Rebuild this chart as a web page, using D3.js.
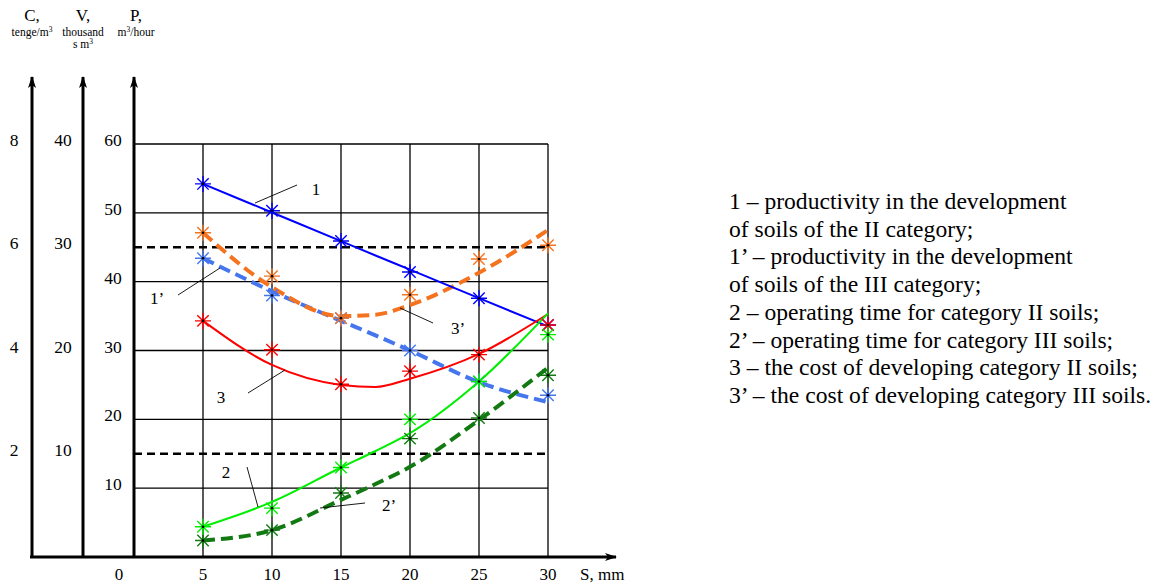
<html>
<script src="https://d3js.org/d3.v7.min.js"></script>
<style>
body { margin:0; background:#fff; }
text { font-family: "Liberation Serif", "Times New Roman", serif; fill:#000; }
</style>
<body>
<svg id="chart" width="1165" height="585"></svg>
<script>
// S, mm
const sVals = [5, 10, 15, 20, 25, 30];
const xTicks = [0, 5, 10, 15, 20, 25, 30];
const pTicks = [10, 20, 30, 40, 50, 60];
const vTicks = [10, 20, 30, 40];
const cTicks = [2, 4, 6, 8];
const refLines = [15, 45]; // on the P scale

// measured points (read in P units)
const p1Marks   = [54.2, 50.3, 45.9, 41.4, 37.6, 33.7];
const p1dMarks  = [43.4, 38.0, 34.7, 30.0, 25.5, 23.5];
const t2Marks   = [4.4, 7.1, 13.0, 20.0, 25.5, 32.3];
const t2dMarks  = [2.4, 3.9, 9.3, 17.2, 20.2, 26.4];
const c3Marks   = [34.3, 30.1, 25.1, 27.0, 29.4, 33.7];
const c3dMarks  = [47.1, 40.8, 34.7, 38.1, 43.3, 45.3];

// fitted curves
const curveS    = [5, 10, 15, 17.5, 20, 25, 30];
const p1Fit     = [54.2, 50.05, 45.9, 43.8, 41.75, 37.6, 33.5];
const p1dFit    = [43.4, 38.6, 34.3, 32.2, 30.0, 25.4, 22.5];
const t2Fit     = [4.4, 8.0, 13.0, 15.4, 18.0, 25.5, 35.4];
const t2dFit    = [2.4, 3.9, 8.3, 10.6, 13.1, 19.9, 27.5];
const c3Fit     = [34.3, 27.9, 25.0, 24.7, 25.9, 29.5, 35.3];
const c3dFit    = [47.1, 39.2, 35.0, 35.2, 36.6, 41.3, 47.5];

const legendLines = [
  "1 \u2013 productivity in the development",
  "of soils of the II category;",
  "1\u2019 \u2013 productivity in the development",
  "of soils of the III category;",
  "2 \u2013 operating time for category II soils;",
  "2\u2019 \u2013 operating time for category III soils;",
  "3 \u2013 the cost of developing category II soils;",
  "3\u2019 \u2013 the cost of developing category III soils."
];

const svg = d3.select("#chart");

const x = d3.scaleLinear().domain([0, 30]).range([134, 548]);
const y = d3.scaleLinear().domain([0, 60]).range([557, 144]);
const yV = d3.scaleLinear().domain([0, 40]).range([557, 144]);
const yC = d3.scaleLinear().domain([0, 8]).range([557, 144]);

// grid
const grid = svg.append("g").attr("stroke", "#000").attr("stroke-width", 1.3);
grid.selectAll(".vg").data(sVals).enter().append("line")
  .attr("x1", d => x(d)).attr("x2", d => x(d))
  .attr("y1", y(60)).attr("y2", y(0));
grid.selectAll(".hg").data(pTicks).enter().append("line")
  .attr("x1", x(0)).attr("x2", x(30))
  .attr("y1", d => y(d)).attr("y2", d => y(d));

svg.selectAll(".ref").data(refLines).enter().append("line")
  .attr("x1", x(0)).attr("x2", x(30))
  .attr("y1", d => y(d)).attr("y2", d => y(d))
  .attr("stroke", "#000").attr("stroke-width", 2.5).attr("stroke-dasharray", "8,5");

// axes with arrows
svg.append("defs").append("marker")
  .attr("id", "arr").attr("viewBox", "0 0 12 8").attr("refX", 11).attr("refY", 4)
  .attr("markerWidth", 12).attr("markerHeight", 8).attr("markerUnits", "userSpaceOnUse")
  .attr("orient", "auto")
  .append("path").attr("d", "M0,0 L12,4 L0,8 L3,4 Z").attr("fill", "#000");

[32, 83, 134].forEach(ax => {
  svg.append("line").attr("x1", ax).attr("x2", ax).attr("y1", 558).attr("y2", 77)
    .attr("stroke", "#000").attr("stroke-width", 3).attr("marker-end", "url(#arr)");
});
svg.append("line").attr("x1", 30).attr("x2", 616).attr("y1", 557).attr("y2", 557)
  .attr("stroke", "#000").attr("stroke-width", 3).attr("marker-end", "url(#arr)");

// tick labels
svg.selectAll(".pt").data(pTicks).enter().append("text")
  .attr("x", 113).attr("y", d => y(d) + 2).attr("text-anchor", "middle")
  .attr("font-size", 17.5).text(d => d);
svg.selectAll(".vt").data(vTicks).enter().append("text")
  .attr("x", 63).attr("y", d => yV(d) + 2).attr("text-anchor", "middle")
  .attr("font-size", 17.5).text(d => d);
svg.selectAll(".ct").data(cTicks).enter().append("text")
  .attr("x", 14).attr("y", d => yC(d) + 2).attr("text-anchor", "middle")
  .attr("font-size", 17.5).text(d => d);
svg.selectAll(".xt").data(xTicks).enter().append("text")
  .attr("x", d => d === 0 ? 119 : x(d)).attr("y", 580).attr("text-anchor", "middle")
  .attr("font-size", 17).text(d => d);
svg.append("text").attr("x", 580).attr("y", 580).attr("font-size", 17).text("S, mm");

// axis headers
function header(cx, big, lines) {
  svg.append("text").attr("x", cx).attr("y", 21).attr("text-anchor", "middle")
    .attr("font-size", 17).text(big);
  lines.forEach((l, i) => {
    const t = svg.append("text").attr("x", cx).attr("y", 36 + i * 12)
      .attr("text-anchor", "middle").attr("font-size", 11.5);
    l.forEach(p => {
      if (p.sup) t.append("tspan").attr("font-size", 7.5).attr("dy", -4).text(p.s);
      else t.append("tspan").attr("dy", p.down ? 4 : 0).text(p.s);
    });
  });
}
header(32, "C,", [[{s: "tenge/m"}, {s: "3", sup: true}]]);
header(83, "V,", [[{s: "thousand"}], [{s: "s m"}, {s: "3", sup: true}]]);
header(136, "P,", [[{s: "m"}, {s: "3", sup: true}, {s: "/hour", down: true}]]);

// series
const series = [
  {fit: p1dFit, marks: p1dMarks, color: "#4576ee", w: 4, dash: "12,6"},
  {fit: c3dFit, marks: c3dMarks, color: "#f5731f", w: 4, dash: "12,6"},
  {fit: p1Fit,  marks: p1Marks,  color: "#0000ff", w: 2, dash: null},
  {fit: c3Fit,  marks: c3Marks,  color: "#ff0000", w: 2, dash: null},
  {fit: t2dFit, marks: t2dMarks, color: "#137a13", w: 4, dash: "12,6"},
  {fit: t2Fit,  marks: t2Marks,  color: "#00ee00", w: 2, dash: null}
];

const line = d3.line().x(d => x(d[0])).y(d => y(d[1])).curve(d3.curveMonotoneX);

series.forEach(s => {
  svg.append("path")
    .datum(curveS.map((v, i) => [v, s.fit[i]]))
    .attr("d", line).attr("fill", "none")
    .attr("stroke", s.color).attr("stroke-width", s.w)
    .attr("stroke-dasharray", s.dash);
});

const star = "M-8,0L8,0M0,-8L0,8M-5.7,-5.7L5.7,5.7M-5.7,5.7L5.7,-5.7";
series.forEach(s => {
  const g = svg.append("g");
  g.selectAll("path").data(sVals.map((v, i) => [v, s.marks[i]])).enter().append("path")
    .attr("transform", d => `translate(${x(d[0])},${y(d[1])})`)
    .attr("d", star).attr("stroke", s.color).attr("stroke-width", 1.4).attr("fill", "none");
  g.selectAll("circle").data(sVals.map((v, i) => [v, s.marks[i]])).enter().append("circle")
    .attr("cx", d => x(d[0])).attr("cy", d => y(d[1])).attr("r", 1.3).attr("fill", "#000");
});

// curve labels with leaders
const notes = [
  {t: "1",  tx: 316, ty: 195, l: [297, 185, 255, 203]},
  {t: "1\u2019", tx: 157, ty: 304, l: [178, 295, 220, 268]},
  {t: "3\u2019", tx: 458, ty: 334, l: [400, 308, 433, 323]},
  {t: "3",  tx: 221, ty: 403, l: [248, 393, 285, 370]},
  {t: "2",  tx: 226, ty: 478, l: [247, 467, 258, 507]},
  {t: "2\u2019", tx: 389, ty: 511, l: [320, 508, 365, 503]}
];
notes.forEach(n => {
  svg.append("line").attr("x1", n.l[0]).attr("y1", n.l[1]).attr("x2", n.l[2]).attr("y2", n.l[3])
    .attr("stroke", "#000").attr("stroke-width", 0.9);
  svg.append("text").attr("x", n.tx).attr("y", n.ty).attr("text-anchor", "middle")
    .attr("font-size", 17).text(n.t);
});

// legend
svg.selectAll(".lg").data(legendLines).enter().append("text")
  .attr("x", 729).attr("y", (d, i) => 209 + i * 27.7)
  .attr("font-size", 23.6).text(d => d);
</script>
</body>
</html>
